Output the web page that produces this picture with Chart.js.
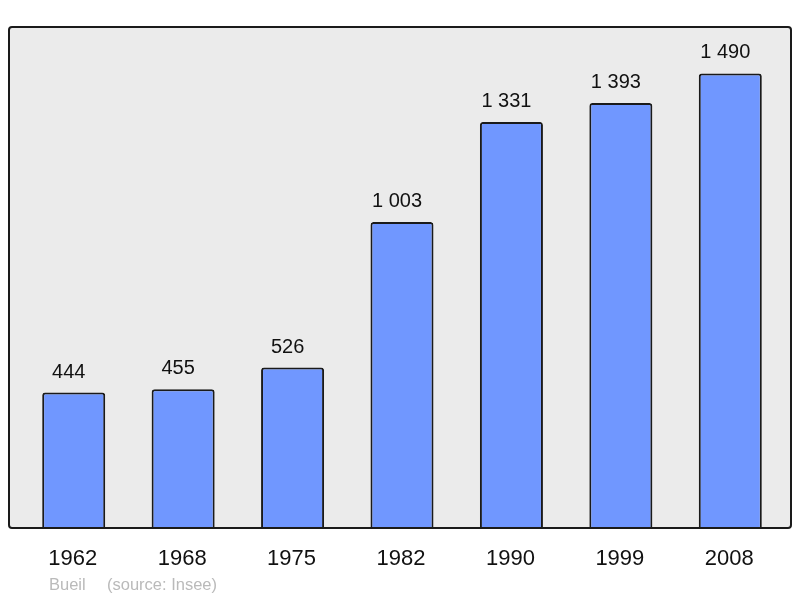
<!DOCTYPE html>
<html>
<head>
<meta charset="utf-8">
<script src="https://cdn.jsdelivr.net/npm/chart.js@4"></script>
<style>
  html, body { margin: 0; padding: 0; background: #fff; }
  canvas { display: block; }
</style>
</head>
<body>
<canvas id="popChart" width="800" height="598"></canvas>
<script>
const years = ['1962', '1968', '1975', '1982', '1990', '1999', '2008'];
const population = [444, 455, 526, 1003, 1331, 1393, 1490];
const commune = 'Bueil';
const source = '(source: Insee)';

const fmt = v => String(v).replace(/\B(?=(\d{3})+(?!\d))/g, ' ');

// frame + labels drawn around the chart area
const framePlugin = {
    id: 'frame',
    beforeDatasetsDraw(chart) {
        const { ctx, chartArea: a } = chart;
        const x0 = a.left - 10, x1 = a.right + 6, y0 = a.top, y1 = a.bottom;
        ctx.save();
        ctx.beginPath();
        ctx.roundRect(x0, y0, x1 - x0, y1 - y0, 3);
        ctx.fillStyle = '#ebebeb';
        ctx.fill();
        ctx.restore();
    },
    afterDatasetsDraw(chart) {
        const { ctx, chartArea: a } = chart;
        const x0 = a.left - 10, x1 = a.right + 6, y0 = a.top, y1 = a.bottom;
        ctx.save();
        ctx.beginPath();
        ctx.roundRect(x0, y0, x1 - x0, y1 - y0, 3);
        ctx.lineWidth = 2;
        ctx.strokeStyle = '#1a1a1a';
        ctx.stroke();

        const meta = chart.getDatasetMeta(0);
        ctx.fillStyle = '#111';
        ctx.textAlign = 'center';
        ctx.textBaseline = 'alphabetic';
        ctx.font = '20px "Liberation Sans", Arial, sans-serif';
        meta.data.forEach((bar, i) => {
            ctx.fillText(fmt(population[i]), bar.x - 5, bar.y - 15);
        });

        ctx.font = '22px "Liberation Sans", Arial, sans-serif';
        meta.data.forEach((bar, i) => {
            ctx.fillText(years[i], bar.x - 1, 565);
        });

        ctx.fillStyle = '#bababa';
        ctx.font = '16.5px "Liberation Sans", Arial, sans-serif';
        ctx.textAlign = 'left';
        ctx.fillText(commune, 49, 590);
        ctx.fillText(source, 107, 590);
        ctx.restore();
    }
};

new Chart(document.getElementById('popChart'), {
    type: 'bar',
    data: {
        labels: years,
        datasets: [{
            data: population,
            backgroundColor: '#7097ff',
            borderColor: '#1a1a1a',
            borderWidth: 2,
            borderRadius: 3,
            borderSkipped: 'bottom',
            barPercentage: 0.576,
            categoryPercentage: 1
        }]
    },
    options: {
        responsive: false,
        animation: false,
        layout: { padding: { left: 19, right: 15, top: 27, bottom: 70 } },
        plugins: {
            legend: { display: false },
            tooltip: { enabled: false }
        },
        scales: {
            x: { display: false },
            y: { display: false, min: 0, max: 1642 }
        }
    },
    plugins: [framePlugin]
});
</script>
</body>
</html>
